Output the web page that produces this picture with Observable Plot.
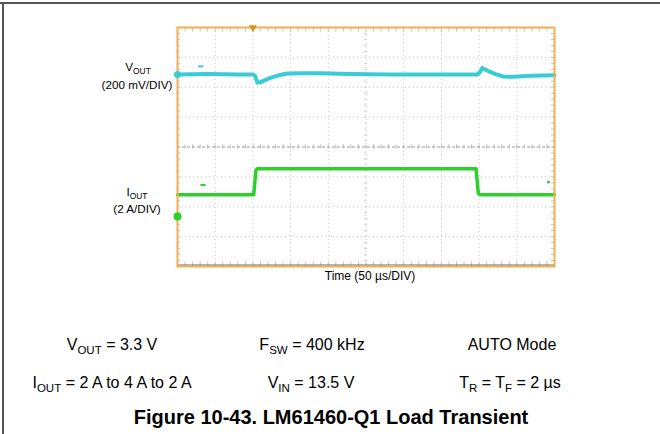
<!DOCTYPE html>
<html><head><meta charset="utf-8">
<script src="https://cdn.jsdelivr.net/npm/d3@7"></script>
<script src="https://cdn.jsdelivr.net/npm/@observablehq/plot@0.6"></script>
<style>
html,body{margin:0;padding:0;background:#fff;}
body{font-family:"Liberation Sans",Arial,sans-serif;color:#000;}
#page{position:relative;width:660px;height:434px;overflow:hidden;}
#frameTop{position:absolute;left:0;top:2px;width:660px;height:0;border-top:2px solid #555;}
#frameLeft{position:absolute;left:2px;top:2px;width:0;height:432px;border-left:2px solid #555;}
.t{position:absolute;white-space:nowrap;transform:translate(-50%,-50%);line-height:1;}
.sub{font-size:0.72em;position:relative;top:0.32em;}
.lab{font-size:11.7px;}
.time{font-size:12px;}
.cond{font-size:16px;}
.title{font-size:20px;font-weight:bold;}
#scope{position:absolute;left:167px;top:17px;}
</style></head>
<body><div id="page">
<div id="frameTop"></div><div id="frameLeft"></div>
<div id="scope"></div>
<div class="t lab" style="left:138px;top:67px">V<span class="sub">OUT</span></div>
<div class="t lab" style="left:137px;top:85px">(200 mV/DIV)</div>
<div class="t lab" style="left:137px;top:192px">I<span class="sub">OUT</span></div>
<div class="t lab" style="left:137px;top:209px">(2 A/DIV)</div>
<div class="t time" style="left:370px;top:276px">Time (50 µs/DIV)</div>
<div class="t cond" style="left:112px;top:345px">V<span class="sub">OUT</span> = 3.3 V</div>
<div class="t cond" style="left:312px;top:345px">F<span class="sub">SW</span> = 400 kHz</div>
<div class="t cond" style="left:512px;top:345px">AUTO Mode</div>
<div class="t cond" style="left:112px;top:383px">I<span class="sub">OUT</span> = 2 A to 4 A to 2 A</div>
<div class="t cond" style="left:311px;top:383px">V<span class="sub">IN</span> = 13.5 V</div>
<div class="t cond" style="left:510px;top:383px">T<span class="sub">R</span> = T<span class="sub">F</span> = 2 µs</div>
<div class="t title" style="left:331px;top:417px">Figure 10-43. LM61460-Q1 Load Transient</div>
</div>
<script>
// Time base: 50 µs/div, 10 divisions
const timeTicks = [0,50,100,150,200,250,300,350,400,450,500];
const divTicks = [-4,-3,-2,-1,0,1,2,3,4];
// VOUT deviation (mV) vs time (µs), 200 mV/div
const timeV = [0,40,80,100,103,106,110,116,124,134,146,165,190,230,280,330,380,398,401,404,408,414,422,432,445,470,500];
const voutMV = [0,2,0,0,-10,-55,-52,-38,-22,-6,6,8,7,2,0,0,0,0,15,42,33,18,2,-14,-16,-9,-6];
// IOUT (A) vs time (µs), 2 A/div
const timeI = [0,60,101,102,104,106,200,300,396,397,399,401,450,500];
const ioutA = [1.47,1.47,1.47,2.0,3.1,3.2,3.2,3.2,3.2,2.6,1.55,1.47,1.47,1.47];
// channel reference levels (divisions from centre)
const ch1Ref = 2.43, ch2Ref = -2.33;
const vScale = 200, iScale = 2;
const minorT = d3.range(0,501,10);
const minorD = d3.range(-4,4.01,0.2);

const vData = timeV.map((t,i)=>({t, y: ch1Ref + voutMV[i]/vScale}));
const iData = timeI.map((t,i)=>({t, y: ch2Ref + ioutA[i]/iScale}));

const grid = "#c9c9c9", orange = "#f0b050", cyan = "#38cdd4", green = "#2ad22a";
const chart = Plot.plot({
  width: 397, height: 259,
  marginLeft: 10, marginRight: 10, marginTop: 10, marginBottom: 10,
  x: {domain: [0,500], axis: null},
  y: {domain: [-4,4], axis: null},
  marks: [
    Plot.ruleX(timeTicks.slice(1,-1), {stroke: grid, strokeWidth: 1, strokeDasharray: "1,3"}),
    Plot.ruleY(divTicks.slice(1,-1).filter(d=>d!==0), {stroke: grid, strokeWidth: 1, strokeDasharray: "1,3"}),
    Plot.ruleY([0], {stroke: "#999", strokeWidth: 1, strokeDasharray: "3,2"}),
    Plot.ruleX(minorT, {x: d=>d, y1: -0.07, y2: 0.07, stroke: "#bbb"}),
    Plot.ruleX(minorT, {x: d=>d, y1: 4, y2: 3.85, stroke: "#c4c4c4"}),
    Plot.ruleX(minorT, {x: d=>d, y1: -4, y2: -3.85, stroke: "#c4c4c4"}),
    Plot.ruleY(minorD, {y: d=>d, x1: 248, x2: 252, stroke: "#d0d0d0"}),
    Plot.ruleY(minorD, {y: d=>d, x1: 0, x2: 4, stroke: "#c4c4c4"}),
    Plot.ruleY(minorD, {y: d=>d, x1: 500, x2: 496, stroke: "#c4c4c4"}),
    Plot.ruleY([-4], {stroke: "#667", strokeWidth: 1.2, dy: -1.5}),
    Plot.line(vData, {x: "t", y: "y", stroke: cyan, strokeWidth: 4, curve: "linear"}),
    Plot.line(iData, {x: "t", y: "y", stroke: green, strokeWidth: 3.5, curve: "linear"}),
    Plot.ruleY([2.7], {x1: 28, x2: 35, stroke: cyan, strokeWidth: 2}),
    Plot.ruleY([-1.27], {x1: 31, x2: 38, stroke: green, strokeWidth: 2}),
    Plot.dot([{t:492, y:-1.17}], {x: "t", y: "y", r: 1.5, fill: green}),
    Plot.frame({stroke: orange, strokeWidth: 2}),
    Plot.dot([{t:0, y:ch1Ref}], {x: "t", y: "y", r: 3.5, fill: cyan}),
    Plot.dot([{t:0, y:ch2Ref}], {x: "t", y: "y", r: 4, fill: green}),
    Plot.dot([{t:100, y:4}], {x: "t", y: "y", symbol: "triangle", r: 3, fill: "#e09020", rotate: 180})
  ]
});
document.getElementById("scope").append(chart);
</script>
</body></html>
